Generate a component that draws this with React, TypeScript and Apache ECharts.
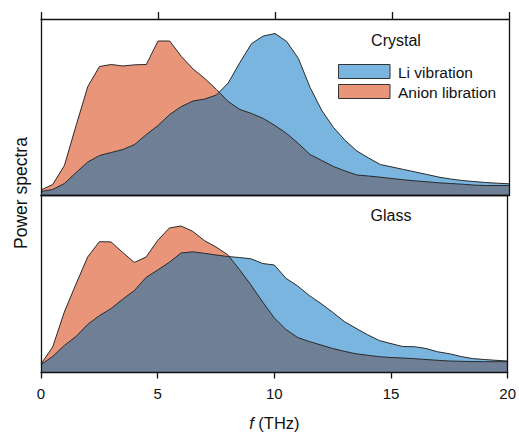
import React, { useEffect, useRef } from "react";
import * as echarts from "echarts";

const freq = [0, 0.5, 1, 1.5, 2, 2.5, 3, 3.5, 4, 4.5, 5, 5.5, 6, 6.5, 7, 7.5, 8, 8.5, 9, 9.5, 10, 10.5, 11, 11.5, 12, 12.5, 13, 13.5, 14, 14.5, 15, 15.5, 16, 16.5, 17, 17.5, 18, 18.5, 19, 19.5, 20];

const crystalAnion = [5.5, 11, 30, 70, 109, 129, 131, 129.5, 130.7, 131, 154.5, 154.5, 139, 126.5, 117, 106, 94, 86, 82, 77, 70, 62, 52, 41, 35, 29, 24.5, 20.5, 19.5, 18.3, 17, 15.7, 14.6, 13.7, 12.7, 12, 11.3, 10.4, 10, 10, 10];
const crystalLi = [4, 6, 12, 23, 33.5, 40, 43, 46, 51, 61, 70, 81, 89, 94.5, 96.5, 100.5, 112.5, 133, 152, 159.5, 162, 154, 137, 108, 85, 68, 55, 44.5, 37.5, 31, 28.5, 26, 23.5, 21, 18.4, 16.5, 15, 14, 13, 12.3, 11.7];

const glassAnion = [8.5, 25.5, 60.5, 88.5, 115.5, 130.8, 130.6, 120.1, 110.1, 115.4, 132, 144.5, 146.5, 141.2, 132, 125.5, 117.8, 103.2, 87.4, 70.5, 54.5, 43, 35, 31, 27.5, 24, 21.2, 18.7, 17.2, 15.8, 15, 14.5, 13.8, 13, 12.2, 11.5, 11.2, 10.9, 10.8, 10.8, 10.8];
const glassLi = [8, 16, 27, 36, 48.1, 56.8, 63.9, 73.3, 81.9, 95, 102.5, 110.2, 119.5, 120.7, 119.2, 117.5, 116, 115, 113.7, 109, 107.5, 94.2, 86.5, 77, 69, 60.2, 51, 44.2, 37.7, 32, 28.9, 26, 25.8, 24, 20.7, 18.8, 16, 13.9, 13, 12.2, 11.5];

const xTicks = [0, 5, 10, 15, 20];
const panelNames = ["Crystal", "Glass"];
const legendNames = ["Li vibration", "Anion libration"];

const ORANGE = "#E8957A";
const BLUE = "#79B5DF";
const SLATE = "#6F8096";
const EDGE = "#2a2a2a";
const FONT = "Liberation Sans, Arial, Helvetica, sans-serif";

function pairs(xs: number[], ys: number[]) {
  return xs.map((x, i) => [x, ys[i]]);
}

function overlap(xs: number[], a: number[], b: number[]) {
  const out: number[][] = [];
  for (let i = 0; i < xs.length; i++) {
    out.push([xs[i], Math.min(a[i], b[i])]);
    if (i < xs.length - 1) {
      const da = a[i] - b[i];
      const db = a[i + 1] - b[i + 1];
      if (da * db < 0) {
        const t = da / (da - db);
        out.push([xs[i] + t * (xs[i + 1] - xs[i]), a[i] + t * (a[i + 1] - a[i])]);
      }
    }
  }
  return out;
}

function panelSeries(idx: number, anion: number[], li: number[]) {
  const base = { type: "line", xAxisIndex: idx * 2, yAxisIndex: idx * 2, showSymbol: false, symbol: "none", silent: true };
  return [
    { ...base, name: legendNames[1], data: pairs(freq, anion), lineStyle: { width: 0 }, areaStyle: { color: ORANGE, opacity: 1 }, z: 2 },
    { ...base, name: legendNames[0], data: pairs(freq, li), lineStyle: { width: 0 }, areaStyle: { color: BLUE, opacity: 1 }, z: 3 },
    { ...base, name: "overlap", data: overlap(freq, anion, li), lineStyle: { width: 0 }, areaStyle: { color: SLATE, opacity: 1 }, z: 4 },
    { ...base, name: "anionEdge", data: pairs(freq, anion), lineStyle: { width: 1, color: EDGE }, z: 5 },
    { ...base, name: "liEdge", data: pairs(freq, li), lineStyle: { width: 1, color: EDGE }, z: 5 },
  ];
}

export default function App() {
  const ref = useRef<HTMLDivElement>(null);
  useEffect(() => {
    if (!ref.current) return;
    const chart = echarts.init(ref.current, null, { renderer: "svg" });
    const axisLine = { show: true, onZero: false, lineStyle: { color: "#111", width: 1.3 } };
    const xBase = { type: "value", min: 0, max: 20, interval: 5, splitLine: { show: false }, z: 10, axisLine };
    const yBase = { type: "value", min: 0, splitLine: { show: false }, axisTick: { show: false }, axisLabel: { show: false }, z: 10, axisLine };
    const option: any = {
      animation: false,
      backgroundColor: "#ffffff",
      textStyle: { fontFamily: FONT },
      grid: [
        { left: 41, right: 10, top: 19, height: 176.5 },
        { left: 41, right: 10, top: 195.5, height: 177 },
      ],
      xAxis: [
        { ...xBase, gridIndex: 0, position: "top", axisTick: { show: true, inside: false, length: 7, lineStyle: { color: "#111", width: 1.3 } }, axisLabel: { show: false } },
        { ...xBase, gridIndex: 0, position: "bottom", axisTick: { show: false }, axisLabel: { show: false } },
        {
          ...xBase, gridIndex: 1, position: "bottom",
          axisTick: { show: true, inside: false, length: 6, lineStyle: { color: "#111", width: 1.3 } },
          axisLabel: { show: true, margin: 13, fontSize: 15, color: "#111", fontFamily: FONT, formatter: (v: number) => (xTicks.includes(v) ? String(v) : "") },
          name: "{i|f} (THz)", nameLocation: "middle", nameGap: 42,
          nameTextStyle: { fontSize: 16.5, color: "#111", fontFamily: FONT, rich: { i: { fontStyle: "italic", fontSize: 16.5, color: "#111", fontFamily: FONT } } },
        },
        { ...xBase, gridIndex: 1, position: "top", axisTick: { show: false }, axisLabel: { show: false } },
      ],
      yAxis: [
        { ...yBase, gridIndex: 0, max: 176.5, position: "left" },
        { ...yBase, gridIndex: 0, max: 176.5, position: "right" },
        { ...yBase, gridIndex: 1, max: 177, position: "left" },
        { ...yBase, gridIndex: 1, max: 177, position: "right" },
      ],
      series: [...panelSeries(0, crystalAnion, crystalLi), ...panelSeries(1, glassAnion, glassLi)],
      graphic: [
        { type: "text", x: 396, y: 40, style: { text: panelNames[0], fontSize: 16, fontFamily: FONT, fill: "#111", align: "center", verticalAlign: "middle" }, z: 20 },
        { type: "text", x: 391, y: 215, style: { text: panelNames[1], fontSize: 16, fontFamily: FONT, fill: "#111", align: "center", verticalAlign: "middle" }, z: 20 },
        { type: "rect", shape: { x: 338.5, y: 64.5, width: 51.5, height: 14 }, style: { fill: BLUE, stroke: "#333", lineWidth: 1 }, z: 20 },
        { type: "rect", shape: { x: 338.5, y: 84.5, width: 51.5, height: 14 }, style: { fill: ORANGE, stroke: "#333", lineWidth: 1 }, z: 20 },
        { type: "text", x: 398, y: 72, style: { text: legendNames[0], fontSize: 15.5, fontFamily: FONT, fill: "#111", align: "left", verticalAlign: "middle" }, z: 20 },
        { type: "text", x: 398, y: 92, style: { text: legendNames[1], fontSize: 15.5, fontFamily: FONT, fill: "#111", align: "left", verticalAlign: "middle" }, z: 20 },
        { type: "text", x: 21, y: 193, rotation: Math.PI / 2, style: { text: "Power spectra", fontSize: 17.5, fontFamily: FONT, fill: "#111", align: "center", verticalAlign: "middle" }, z: 20 },
      ],
    };
    chart.setOption(option);
    return () => chart.dispose();
  }, []);
  return <div ref={ref} style={{ position: "fixed", left: 0, top: 0, width: 519, height: 433, background: "#fff" }} />;
}
